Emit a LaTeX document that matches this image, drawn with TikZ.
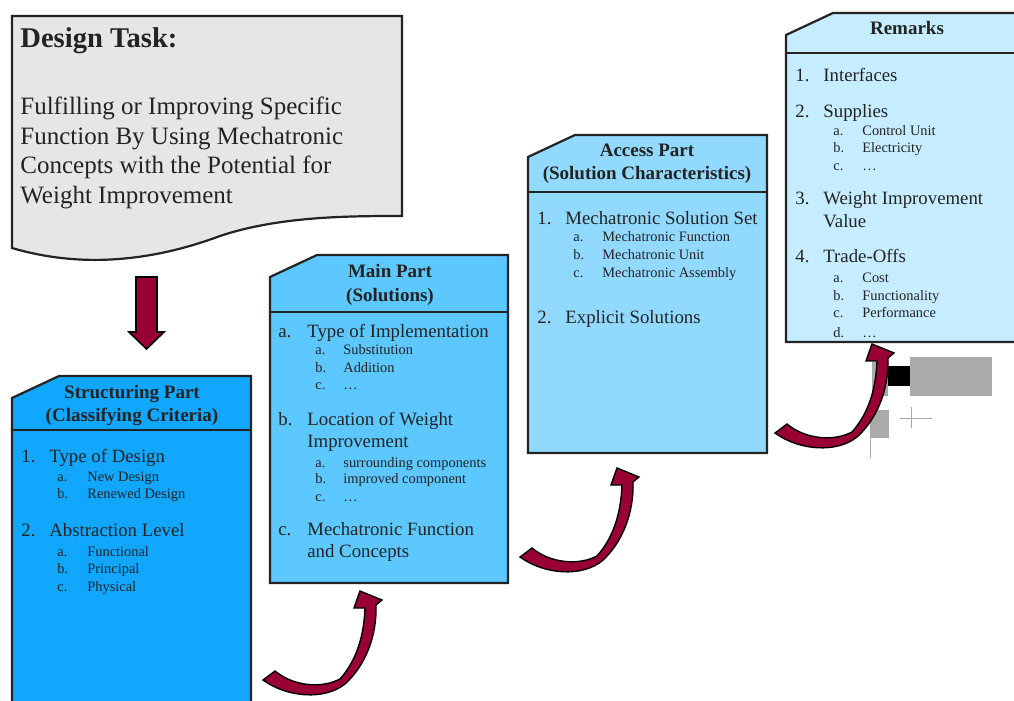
\documentclass[tikz,border=0pt]{standalone}
\usepackage{fontspec}
\setmainfont{Liberation Serif}
\definecolor{docgray}{RGB}{230,230,230}
\definecolor{structblue}{RGB}{18,167,255}
\definecolor{mainblue}{RGB}{92,200,255}
\definecolor{accessblue}{RGB}{146,217,255}
\definecolor{remarkblue}{RGB}{198,236,255}
\definecolor{arrowred}{RGB}{153,0,51}
\definecolor{linegray}{RGB}{35,35,35}
\definecolor{junkgray}{RGB}{170,170,170}

\tikzset{
  card/.style={draw=linegray, line width=1.1pt},
  head/.style={anchor=base, inner sep=0pt, text=linegray, font=\bfseries\fontsize{9.5}{11}\selectfont},
  item/.style={anchor=base west, inner sep=0pt, text=linegray, font=\fontsize{9.4}{11}\selectfont},
  subitem/.style={anchor=base west, inner sep=0pt, text=linegray, font=\fontsize{7.2}{9}\selectfont},
  bendarrow/.pic={
    \draw[draw=black, line width=0.7pt, fill=arrowred] (0,0) .. controls (25,18) and (62,20) .. (82,4)
      .. controls (103,-15) and (114,-45) .. (113,-75) -- (119,-80) -- (97,-89) -- (91,-72) -- (102,-72)
      .. controls (101,-45) and (94,-20) .. (77,-1) .. controls (58,9) and (30,6) .. (12,-9) -- cycle;
  }
}

\begin{document}
\begin{tikzpicture}[x=0.5pt,y=-0.5pt]
    \clip (0,0) rectangle (1014,701);
    \fill[white] (0,0) rectangle (1014,701);

    % design task
    \draw[card, fill=docgray] (12,16) -- (402,16) -- (402,216) .. controls (350,216) and (280,216) .. (220,236)
      .. controls (150,262) and (80,268) .. (12,248) -- cycle;
    \node[anchor=base west, inner sep=0pt, text=linegray, font=\bfseries\fontsize{14.3}{17}\selectfont] (task) at (20,48) {Design Task:};
    \foreach \txt [count=\i] in {Fulfilling or Improving Specific, Function By Using Mechatronic, Concepts with the Potential for, Weight Improvement}
      \node[anchor=base west, inner sep=0pt, text=linegray, font=\fontsize{12.5}{15}\selectfont] (task\i) at (20,{85.5+29.5*\i}) {\txt};

    \draw[draw=black, line width=0.8pt, fill=arrowred] (136,277) -- (157,277) -- (157,332) -- (164,332) -- (146.5,349) -- (129,332) -- (136,332) -- cycle;

    % cards
    \foreach \xl/\yt/\xr/\yb/\ys/\col in {12/376/251/720/430/structblue, 270/255/508/583/312/mainblue, 528/135/767/453/192/accessblue, 786/13/1030/342/53/remarkblue} {
      \draw[card, fill=\col] (\xl,\yt+22) -- (\xl+47,\yt) -- (\xr,\yt) -- (\xr,\yb) -- (\xl,\yb) -- cycle;
      \draw[card] (\xl,\ys) -- (\xr,\ys);
    }

    % structuring part
    \node[head] (struct) at (132,399) {Structuring Part};
    \node[head] (structb) at (132,422) {(Classifying Criteria)};
    \node[item] (s1) at (21,462) {1.};
    \node[item] (s1t) at (49,462) {Type of Design};
    \foreach \lab/\txt/\y in {a./New Design/481, b./Renewed Design/498}{
      \node[subitem] (sa\y) at (57,\y) {\lab};
      \node[subitem] (st\y) at (87,\y) {\txt};
    }
    \node[item] (s2) at (21,537) {2.};
    \node[item] (s2t) at (49,537) {Abstraction Level};
    \foreach \lab/\txt/\y in {a./Functional/556, b./Principal/573, c./Physical/591}{
      \node[subitem] (sa\y) at (57,\y) {\lab};
      \node[subitem] (st\y) at (87,\y) {\txt};
    }

    % main part
    \node[head] (main) at (390,278) {Main Part};
    \node[head] (mainb) at (390,302) {(Solutions)};
    \node[item] (m1) at (278,337) {a.};
    \node[item] (m1t) at (307,337) {Type of Implementation};
    \foreach \lab/\txt/\y in {a./Substitution/355, b./Addition/372, c./\dots/390}{
      \node[subitem] (ma\y) at (315,\y) {\lab};
      \node[subitem] (mt\y) at (343,\y) {\txt};
    }
    \node[item] (m2) at (278,425) {b.};
    \node[item] (m2t) at (307,425) {Location of Weight};
    \node[item] (m2u) at (307,447) {Improvement};
    \foreach \lab/\txt/\y in {a./surrounding components/467, b./improved component/483, c./\dots/502}{
      \node[subitem] (ma\y) at (315,\y) {\lab};
      \node[subitem] (mt\y) at (343,\y) {\txt};
    }
    \node[item] (m3) at (278,535) {c.};
    \node[item] (m3t) at (307,535) {Mechatronic Function};
    \node[item] (m3u) at (307,557) {and Concepts};

    % access part
    \node[head] (access) at (647,157) {Access Part};
    \node[head] (accessb) at (647,180) {(Solution Characteristics)};
    \node[item] (a1) at (537,225) {1.};
    \node[item] (a1t) at (565,225) {Mechatronic Solution Set};
    \foreach \lab/\txt/\y in {a./Mechatronic Function/242, b./Mechatronic Unit/260, c./Mechatronic Assembly/278}{
      \node[subitem] (aa\y) at (573,\y) {\lab};
      \node[subitem] (at\y) at (602,\y) {\txt};
    }
    \node[item] (a2) at (537,323) {2.};
    \node[item] (a2t) at (565,323) {Explicit Solutions};

    % remarks
    \node[head] (remarks) at (907,35) {Remarks};
    \node[item] (r1) at (795,82) {1.};
    \node[item] (r1t) at (823,82) {Interfaces};
    \node[item] (r2) at (795,118) {2.};
    \node[item] (r2t) at (823,118) {Supplies};
    \foreach \lab/\txt/\y in {a./Control Unit/136, b./Electricity/153, c./\dots/171}{
      \node[subitem] (ra\y) at (833,\y) {\lab};
      \node[subitem] (rt\y) at (862,\y) {\txt};
    }
    \node[item] (r3) at (795,205) {3.};
    \node[item] (r3t) at (823,205) {Weight Improvement};
    \node[item] (r3u) at (823,228) {Value};
    \node[item] (r4) at (795,263) {4.};
    \node[item] (r4t) at (823,263) {Trade-Offs};
    \foreach \lab/\txt/\y in {a./Cost/283, b./Functionality/300, c./Performance/318, d./\dots/337}{
      \node[subitem] (ra\y) at (833,\y) {\lab};
      \node[subitem] (rt\y) at (862,\y) {\txt};
    }

    % grey specks by the last arrow
    \fill[junkgray] (910,357) rectangle (992,396);
    \fill[black] (888,366) rectangle (910,386);
    \fill[junkgray] (872,362) rectangle (888,396);
    \fill[junkgray] (870,410) rectangle (889,438);
    \draw[junkgray, line width=0.4pt] (900,418) -- (932,418) (911,407) -- (911,428) (870,438) -- (870,458);

    % curved arrows
    \pic (bendA) at (263,680) {bendarrow};
    \pic (bendB) at (520,557) {bendarrow};
    \pic (bendC) at (775,433) {bendarrow};
\end{tikzpicture}
\end{document}
